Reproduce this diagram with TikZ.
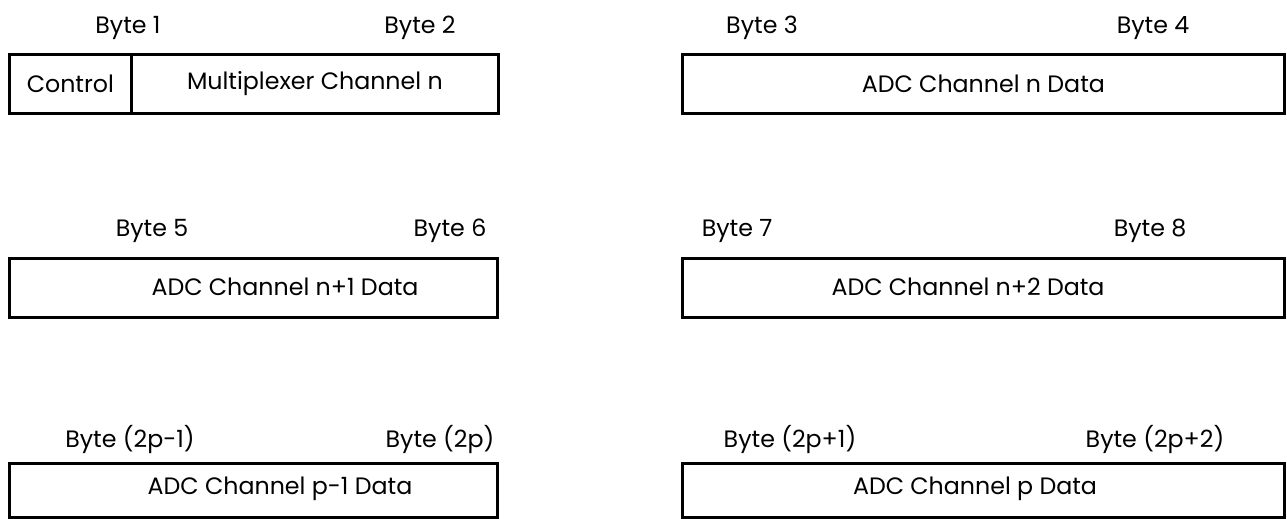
\documentclass[tikz,border=0pt]{standalone}
\usepackage{fontspec}
\setmainfont{Poppins}
\usetikzlibrary{positioning}
\tikzset{
  field/.style={draw, line width=1.6pt, anchor=north west, inner sep=0pt,
    minimum height=1.18cm, font=\fontsize{13.5}{16}\selectfont},
  fieldtxt/.style={inner sep=0pt, font=\fontsize{13.5}{16}\selectfont},
  bytelbl/.style={inner sep=0pt, font=\fontsize{13.5}{16}\selectfont},
}

\begin{document}
\begin{tikzpicture}[x=0.02cm, y=-0.02cm]
        \useasboundingbox (0,0) rectangle (1287,518);

        % Bytes 1-2: control and multiplexer channel
        \node[field, minimum width=2.44cm] (ctrl) at (8,53) {Control};
        \node[field, minimum width=7.34cm] (mux) at (130,53) {Multiplexer Channel n};
        \node[bytelbl] (b1) at (128,28) {Byte 1};
        \node[bytelbl] (b2) at (420,28) {Byte 2};

        % Bytes 3-4
        \node[field, minimum width=12.04cm] (adcn) at (681,53) {ADC Channel n Data};
        \node[bytelbl] (b3) at (762,28) {Byte 3};
        \node[bytelbl] (b4) at (1153,28) {Byte 4};

        % Bytes 5-6
        \node[field, minimum width=9.76cm] (adcna) at (8,257) {};
        \node[fieldtxt] (tna) at (285,287) {ADC Channel n+1 Data};
        \node[bytelbl] (b5) at (152,231) {Byte 5};
        \node[bytelbl] (b6) at (450,231) {Byte 6};

        % Bytes 7-8
        \node[field, minimum width=12.04cm] (adcnb) at (681,257) {};
        \node[fieldtxt] (tnb) at (968,287) {ADC Channel n+2 Data};
        \node[bytelbl] (b7) at (737,231) {Byte 7};
        \node[bytelbl] (b8) at (1150,231) {Byte 8};

        % Bytes (2p-1)-(2p)
        \node[field, minimum width=9.76cm, minimum height=1.08cm] (adcpa) at (8,462) {};
        \node[fieldtxt] (tpa) at (280,489) {ADC Channel p-1 Data};
        \node[bytelbl] (b9) at (130,439) {Byte (2p-1)};
        \node[bytelbl] (b10) at (440,439) {Byte (2p)};

        % Bytes (2p+1)-(2p+2)
        \node[field, minimum width=12.04cm, minimum height=1.08cm] (adcp) at (681,462) {};
        \node[fieldtxt] (tp) at (975,489) {ADC Channel p Data};
        \node[bytelbl] (b11) at (790,439) {Byte (2p+1)};
        \node[bytelbl] (b12) at (1155,439) {Byte (2p+2)};
    \end{tikzpicture}
\end{document}
